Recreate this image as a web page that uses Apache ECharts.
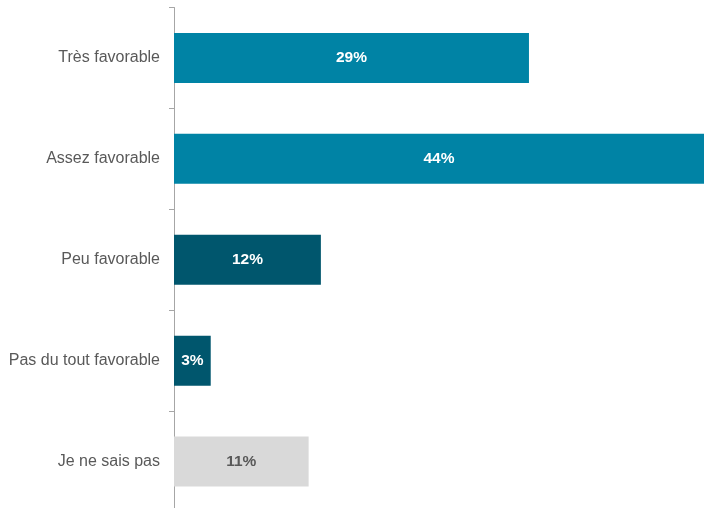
<!DOCTYPE html>
<html><head><meta charset="utf-8">
<script src="https://cdn.jsdelivr.net/npm/echarts@6/dist/echarts.min.js"></script>
<style>html,body{margin:0;padding:0;background:#fff;overflow:hidden}#c{width:704px;height:512px}</style>
</head><body><div id="c"></div>
<script>
const categories = ["Très favorable","Assez favorable","Peu favorable","Pas du tout favorable","Je ne sais pas"];
const values = [29, 44, 12, 3, 11];
const barColors = ["#0083A5","#0083A5","#00566D","#00566D","#D9D9D9"];
const labelColors = ["#ffffff","#ffffff","#ffffff","#ffffff","#595959"];

const chart = echarts.init(document.getElementById('c'), null, {renderer:'canvas'});
chart.setOption({
  animation:false,
  grid:{left:174, top:7.5, right:0, bottom:0, containLabel:false},
  xAxis:{type:'value', min:0, max:43.3, show:false},
  yAxis:{type:'category', data:categories, inverse:true,
    axisLine:{show:true, lineStyle:{color:'#A6A6A6', width:1}},
    axisTick:{show:true, length:5, lineStyle:{color:'#A6A6A6'}},
    axisLabel:{color:'#595959', fontSize:16, fontFamily:'Liberation Sans, Arial, sans-serif', margin:14}
  },
  series:[{type:'bar', barWidth:50, clip:true,
    data: values.map((v,i)=>({value:v, itemStyle:{color:barColors[i]},
      label:{color:labelColors[i]}})),
    label:{show:true, position:'inside', formatter:'{c}%', fontSize:15.5, fontWeight:'bold',
      fontFamily:'Liberation Sans, Arial, sans-serif'}
  }]
});
</script></body></html>
